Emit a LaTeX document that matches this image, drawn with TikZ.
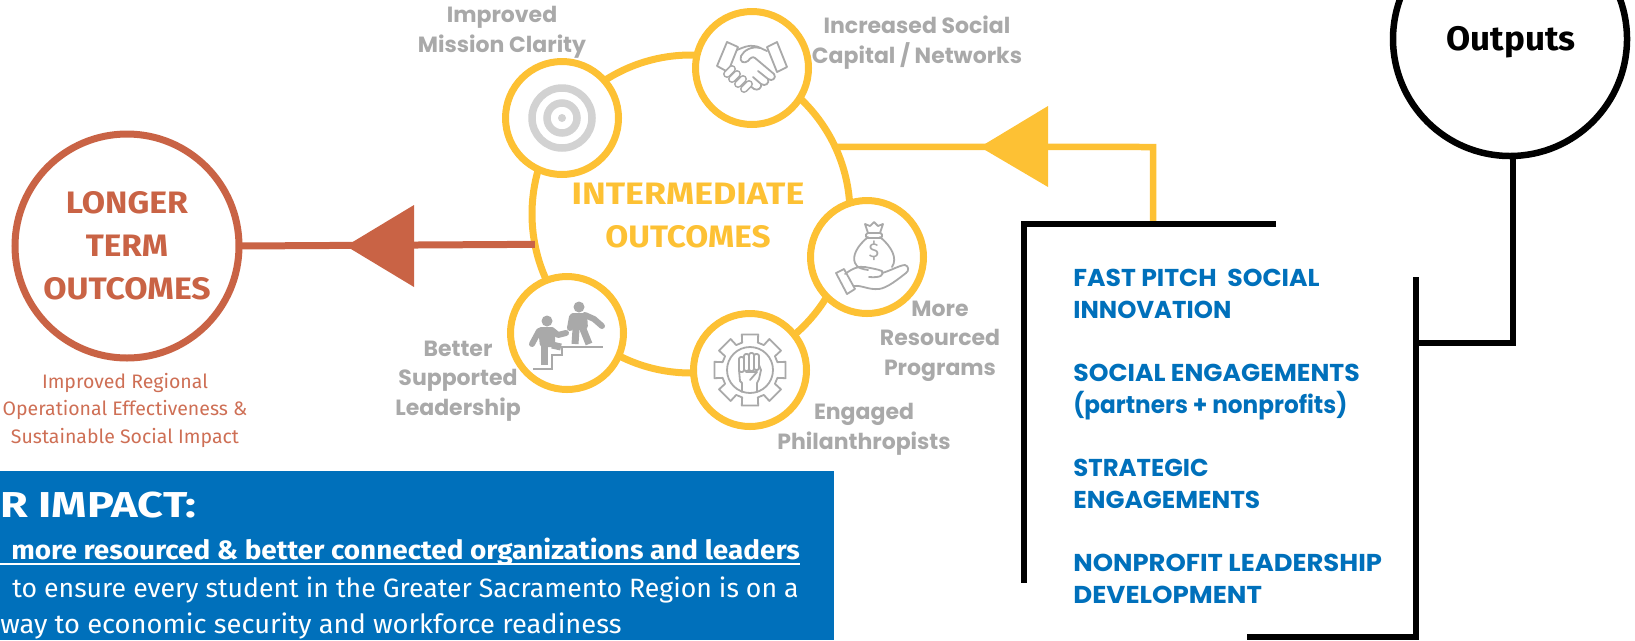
\documentclass[tikz,border=0pt]{standalone}
\usepackage{fontspec}
\usepackage{graphicx}
\setmainfont{Fira Sans}
\newfontfamily\popp{Poppins}
\newfontfamily\fira{Fira Sans}
\newdimen\pxu \pxu=0.56906pt
\newcommand{\fpx}[2]{\fontsize{#1\pxu}{#2\pxu}\selectfont}
\newcommand{\sx}[2]{\scalebox{#1}[1]{#2}}
\definecolor{yel}{HTML}{FDC134}
\definecolor{rust}{HTML}{C96345}
\definecolor{rustt}{HTML}{CE6F55}
\definecolor{blu}{HTML}{0070BB}
\definecolor{gry}{HTML}{A9A9A9}
\definecolor{ringg}{HTML}{D2D2D2}
\tikzset{
 x=0.02cm,y=-0.02cm,
 ycirc/.style={circle,draw=yel,line width=7\pxu,fill=white,minimum size=113*0.02cm,inner sep=0pt,outer sep=0pt},
 greylab/.style={anchor=base,align=center,text=gry,font=\popp\bfseries\fpx{22}{29.5},inner sep=0pt},
 bluelab/.style={anchor=base west,align=left,text=blu,font=\popp\bfseries\fpx{24.4}{32},inner sep=0pt},
 rustlab/.style={anchor=base,align=center,text=rust,font=\fira\bfseries\fpx{31}{43},inner sep=0pt},
 yellab/.style={anchor=base,align=center,text=yel,font=\fira\bfseries\fpx{31}{43},inner sep=0pt},
 subl/.style={anchor=base,align=center,text=rustt,font=\fira\fpx{19.5}{27.5},inner sep=0pt},
 ico/.style={draw=gry,line width=1.8\pxu,line join=round,line cap=round},
 blk/.style={draw=black,line width=6.5\pxu},
 boxt/.style={anchor=base west,text=white,inner sep=0pt},
}
\begin{document}
\begin{tikzpicture}
\useasboundingbox (0,0) rectangle (1635,640);
\clip (0,0) rectangle (1635,640);
% blue panel
\fill[blu] (0,471) rectangle (834,640);
\node[boxt,font=\fira\bfseries\fpx{36}{36}] (impact) at (0,517) {\sx{1.25}{R IMPACT:}};
\node[boxt,font=\fira\bfseries\fpx{26.5}{26}] (more) at (11,559) {\sx{1.053}{more resourced \& better connected organizations and leaders}};
\draw[white,line width=1.6\pxu] (0,564) -- (more.base east |- 0,564);
\node[boxt,font=\fira\fpx{26.5}{26}] (ensure) at (12,597) {\sx{1.005}{to ensure every student in the Greater Sacramento Region is on a}};
\node[boxt,font=\fira\fpx{26.5}{26}] (way) at (0,633) {\sx{1.03}{way to economic security and workforce readiness}};
% ring
\node[circle,draw=yel,line width=7\pxu,minimum size=318*0.02cm,inner sep=0pt,outer sep=0pt] (ring) at (691,214) {};
% longer term
\node[circle,draw=rust,line width=7\pxu,minimum size=224*0.02cm,inner sep=0pt,outer sep=0pt,fill=white] (longer) at (127,246) {};
\node[rustlab] (lt) at (127,299) {\sx{1.09}{LONGER}\\\sx{1.075}{TERM}\\\sx{1.09}{OUTCOMES}};
\node[subl] (sub) at (125,443) {Improved Regional\\Operational Effectiveness \&\\Sustainable Social Impact};
\draw[rust,line width=7\pxu] (longer.east) -- (ring.191);
\coordinate (rtip) at (346,246);
\fill[rust] (rtip) -- (414,205) -- (414,287) -- cycle;
% yellow output connector
\coordinate (ybend) at (1153,147);
\coordinate (ystart) at (1153,224);
\draw[yel,line width=6.5\pxu] (ystart) -- (ybend) -- (ring.25);
\fill[yel] (980,147) -- (1048,106) -- (1048,187) -- cycle;
% small circles
\node[ycirc] (target) at (562,118) {};
\node[ycirc] (hands) at (752,68) {};
\node[ycirc] (money) at (867,257) {};
\node[ycirc] (gear) at (750,370) {};
\node[ycirc] (people) at (567,333) {};
% target icon
\begin{scope}[shift={(target.center)}]
 \draw[ringg,line width=7.5\pxu] (0,0) circle[radius=30];
 \draw[ringg,line width=7.5\pxu] (0,0) circle[radius=15];
 \fill[ringg] (0,0) circle[radius=4];
\end{scope}
% handshake icon
\begin{scope}[shift={(hands.center)}]
 \draw[ico,fill=white] (-25,-26) -- (-14,-21) -- (-24,4) -- (-35,-2) -- cycle;
 \draw[ico,fill=white] (25,-26) -- (35,-1) -- (25,4) -- (15,-21) -- cycle;
 \draw[ico] (-15,-18) .. controls (-8,-21) and (-3,-23) .. (2,-22) .. controls (6,-22) and (10,-19) .. (15,-17);
 \draw[ico] (8,-20) .. controls (0,-22) and (-8,-18) .. (-11,-12) .. controls (-13,-6) and (-8,-4) .. (-4,-7) .. controls (-2,-10) and (1,-12) .. (3,-10) -- (22,6);
 \draw[ico] (22,6) .. controls (25,10) and (20,14) .. (16,11) -- (6,3);
 \draw[ico] (16,11) .. controls (18,15) and (13,19) .. (9,16) -- (1,9);
 \draw[ico] (9,16) .. controls (10,20) and (6,23) .. (2,21) -- (-3,17);
 \draw[ico] (-24,2) -- (-20,6);
 \foreach \a/\b in {-26/1,-21/6,-15/11,-9/16}{
  \draw[gry,line width=8\pxu,line cap=round] (\a,\b) ++(1,5) -- ++(5,-5);
  \draw[white,line width=4.6\pxu,line cap=round] (\a,\b) ++(1,5) -- ++(5,-5);
 }
\end{scope}
% money icon
\begin{scope}[shift={(money.center)}]
 \draw[ico] (1,-20) .. controls (-10,-11) and (-15,-1) .. (-12,6) .. controls (-10,11) and (-5,12) .. (1,13);
 \draw[ico] (13,-20) .. controls (24,-11) and (31,1) .. (25,10);
 \draw[ico,rounded corners=1.5\pxu] (-1,-24) rectangle (15,-19);
 \draw[ico] (1,-24) -- (-2,-33) -- (3,-31) -- (7,-35) -- (11,-31) -- (16,-33) -- (13,-24);
 \node[text=gry,font=\fira\fpx{20}{20},inner sep=0pt] (dollar) at (7,-6) {\$};
 \draw[ico,fill=white] (-31,16) -- (-23,12) -- (-12,32) -- (-20,37) -- cycle;
 \draw[ico] (-22,17) .. controls (-14,11) and (-8,9) .. (-2,10) .. controls (3,11) and (10,12) .. (15,14) .. controls (17,18) and (14,21) .. (2,20);
 \draw[ico] (15,16) .. controls (23,14) and (33,8) .. (38,8) .. controls (42,9) and (42,14) .. (39,16) .. controls (30,23) and (20,31) .. (12,32) .. controls (1,33) and (-5,28) .. (-13,29);
\end{scope}
% gear icon
\begin{scope}[shift={(gear.center)}]
 \draw[ico] (-106:28.5) \foreach \a in {-90,-45,0,45,90,135,180,225}{ -- (\a-16:28.5) -- (\a-13:36.5) -- (\a+13:36.5) -- (\a+16:28.5)} -- cycle;
 \draw[ico] (0,0) circle[radius=23];
 \draw[ico,rounded corners=2\pxu] (-11,-13) rectangle (-6,2);
 \draw[ico,rounded corners=2\pxu] (-6,-16) rectangle (-1,1);
 \draw[ico,rounded corners=2\pxu] (-1,-17) rectangle (4,1);
 \draw[ico,rounded corners=2\pxu] (4,-16) rectangle (9,0);
 \draw[ico] (-11,0) -- (-10,11) -- (-8,13) -- (-8,22);
 \draw[ico] (9,-5) -- (11,0) -- (9,9) -- (7,13) -- (7,22);
 \draw[ico] (-4,2) -- (7,2) -- (0,10);
\end{scope}
% people icon
\begin{scope}[shift={(people.center)}]
 \draw[gry,line width=1.8\pxu] (-34,36) -- (-15,36) -- (-15,22) -- (-5,22) -- (-5,14) -- (36,14);
 \fill[gry] (-20,-12) circle[radius=5.5];
 \fill[gry] (12,-26) circle[radius=5.5];
 \draw[gry,line width=6\pxu,line cap=round,line join=round] (-28,-2) -- (-35,11);
 \draw[gry,line width=6\pxu,line cap=round,line join=round] (-14,-2) -- (-9,2) -- (-1,0);
 \fill[gry,rounded corners=3\pxu] (-29,-6) -- (-12,-6) -- (-12,14) -- (-27,14) -- cycle;
 \draw[gry,line width=7\pxu,line join=round] (-23,12) -- (-23,32);
 \draw[gry,line width=7\pxu,line join=round] (-15,12) -- (-6,14);
 \draw[gry,line width=6\pxu,line cap=round,line join=round] (5,-16) -- (3,-5);
 \draw[gry,line width=6\pxu,line cap=round,line join=round] (18,-18) -- (27,-14) -- (35,-7);
 \fill[gry,rounded corners=3\pxu] (3,-20) -- (20,-20) -- (21,-4) -- (5,-2) -- cycle;
 \draw[gry,line width=7\pxu,line join=round] (9,-4) -- (8,11);
 \draw[gry,line width=7\pxu,line join=round] (16,-4) -- (22,11);
\end{scope}
% labels
\node[greylab] (l1) at (502,52) {Improved\\Mission Clarity};
\node[greylab] (l2) at (917,63) {Increased Social\\Capital / Networks};
\node[greylab] (l3) at (940,375) {More\\Resourced\\Programs};
\node[greylab] (l4) at (864,449) {Engaged\\Philanthropists};
\node[greylab] (l5) at (458,415) {Better\\Supported\\Leadership};
\node[yellab] (imo) at (688,247) {\sx{1.155}{INTERMEDIATE}\\\sx{1.075}{OUTCOMES}};
% bracket and outputs
\coordinate (btr) at (1276,224);
\coordinate (btl) at (1024,224);
\coordinate (bbl) at (1024,583);
\draw[blk,line cap=butt] (btr) -- (btl) -- (bbl);
\coordinate (rtop) at (1416,277);
\coordinate (rbot) at (1416,637);
\coordinate (rend) at (1247,637);
\coordinate (rjoin) at (1416,343);
\coordinate (obend) at (1513,343);
\draw[blk] (rtop) -- (rbot) -- (rend);
\node[circle,draw=black,line width=6.5\pxu,minimum size=234*0.02cm,inner sep=0pt,outer sep=0pt] (outc) at (1510,39) {};
\node[anchor=base,inner sep=0pt,font=\fira\bfseries\fpx{34}{34}] (outt) at (1511,50) {\sx{1.03}{Outputs}};
\draw[blk] (outc.south -| obend) -- (obend) -- (rjoin);
\node[bluelab] (b1) at (1073,318) {\sx{1.03}{FAST PITCH~ SOCIAL}\\\sx{1.0}{INNOVATION}};
\node[bluelab] (b2) at (1073,413) {\sx{1.03}{SOCIAL ENGAGEMENTS}\\\sx{0.95}{(partners + nonprofits)}};
\node[bluelab] (b3) at (1073,508) {\sx{1.0}{STRATEGIC}\\\sx{1.02}{ENGAGEMENTS}};
\node[bluelab] (b4) at (1073,603) {\sx{1.06}{NONPROFIT LEADERSHIP}\\\sx{1.07}{DEVELOPMENT}};
\end{tikzpicture}
\end{document}
